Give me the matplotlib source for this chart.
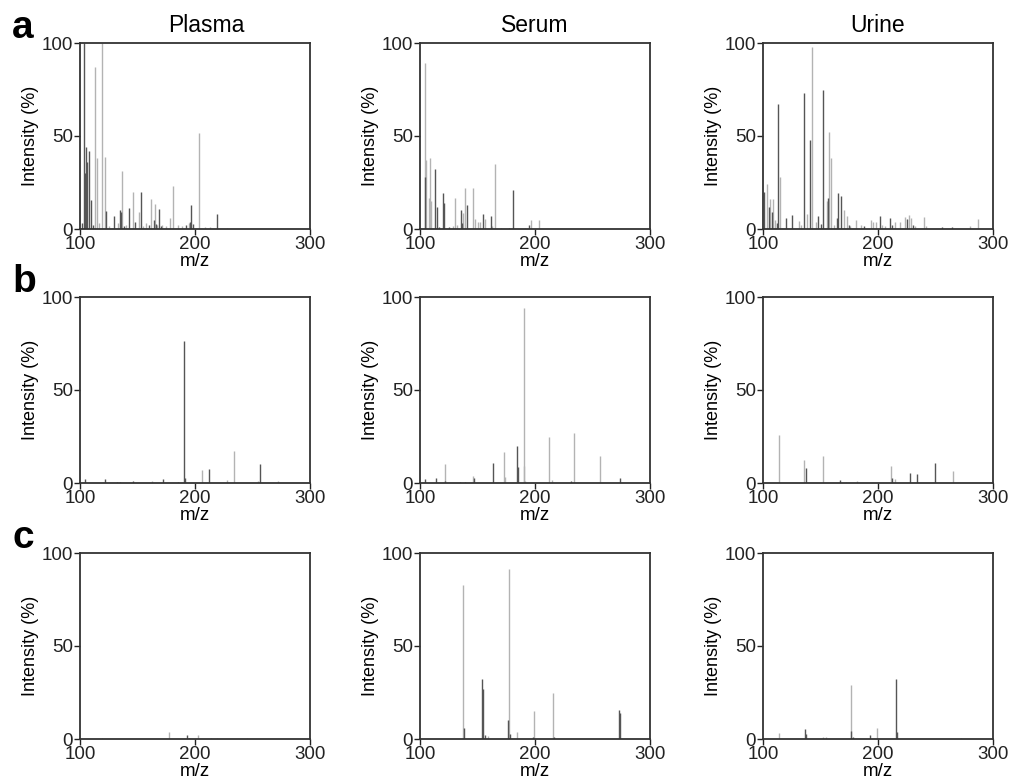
import matplotlib
matplotlib.use("Agg")
import matplotlib.pyplot as plt

plt.rcParams['font.family'] = ['Liberation Sans', 'DejaVu Sans']

samples = ["Plasma", "Serum", "Urine"]
rows = ["a", "b", "c"]
mz_ticks = [100, 200, 300]
int_ticks = [0, 50, 100]

# --- peaks (m/z, relative intensity %), split into light and dark traces ---
# row a
plasma_a_light = [(113.0, 87), (114.5, 38), (116.8, 3), (119.4, 100), (121.4, 38.7),
                  (132.8, 3), (136.8, 31.4), (146.1, 20), (151.0, 9), (157.1, 3),
                  (161.7, 16), (164.9, 13.6), (171.6, 2), (178.3, 6), (180.6, 23),
                  (185.5, 2), (194.8, 3), (203.5, 51.7), (208.7, 1), (213.0, 1),
                  (227.5, 0.5), (125.0, 1.5), (140.0, 2), (155.0, 1.5), (167.0, 2),
                  (175.0, 1.5), (189.0, 1.5)]
plasma_a_dark = [(103.8, 100), (104.3, 30), (105.5, 44), (106.4, 36), (108.1, 42),
                 (109.6, 15.6), (122.3, 9.6), (129.9, 7), (134.8, 10), (135.7, 9),
                 (142.9, 11.4), (148.1, 4), (153.0, 20), (164.0, 5), (168.7, 10.7),
                 (195.7, 4), (196.5, 13), (219.4, 8.3), (101.5, 3), (111.0, 2),
                 (138.5, 1.5), (160.0, 2), (166.0, 2.5), (170.0, 1.5), (192.0, 2),
                 (198.5, 2.5)]
serum_a_light = [(104.0, 89), (105.5, 37), (107.5, 16.5), (108.4, 38), (109.8, 15),
                 (128.6, 1.5), (130.0, 16.5), (132.4, 2), (137.3, 8.7), (138.7, 22),
                 (146.0, 21.8), (148.0, 5.4), (150.3, 3.5), (152.6, 4), (156.9, 5.4),
                 (163.0, 1.5), (165.0, 35), (170.5, 0.5), (191.3, 0.5), (196.5, 4.7),
                 (203.2, 4.7)]
serum_a_dark = [(104.6, 28), (112.7, 32), (114.7, 12), (119.9, 19.6), (120.8, 14),
                (135.3, 10), (136.7, 3), (141.0, 12.7), (154.9, 8.3), (161.8, 7),
                (177.8, 0.5), (181.2, 21), (194.5, 2), (116.5, 1), (125.0, 1)]
urine_a_light = [(103.8, 24.4), (106.3, 16), (108.4, 16), (110.1, 5), (115.0, 28),
                 (131.7, 4.5), (138.4, 8), (143.0, 98), (146.2, 4), (155.4, 15),
                 (157.1, 52), (159.2, 38), (170.7, 10), (172.7, 7), (180.8, 5),
                 (185.1, 2), (193.8, 5), (195.9, 4), (198.3, 4), (203.6, 2),
                 (214.9, 4), (218.9, 3.5), (223.5, 6.5), (227.0, 7.5), (228.4, 6),
                 (240.0, 6.5), (241.7, 1.5), (280.4, 1.5), (286.7, 5.5), (133.0, 2),
                 (162.0, 2), (176.0, 1.5), (206.0, 1.5), (232.0, 1.5)]
urine_a_dark = [(100.9, 20), (104.9, 12), (107.8, 9), (113.0, 67), (120.2, 6),
                (125.4, 7.5), (135.8, 73), (141.3, 48), (147.9, 7), (151.9, 74.5),
                (156.9, 16.6), (164.1, 6), (165.5, 19.4), (167.5, 17.7), (175.0, 2),
                (201.6, 7), (210.2, 6), (225.3, 5.6), (230.7, 2), (255.9, 1),
                (264.0, 1), (112.0, 3), (150.0, 2.5), (188.0, 1.5), (212.0, 2)]
# row b
plasma_b_light = [(162.9, 1.3), (206.2, 7.2), (228.1, 1.8), (234.2, 17), (255.0, 1),
                  (272.0, 1.3)]
plasma_b_dark = [(104.6, 2.3), (121.4, 2), (132.6, 0.5), (135.0, 0.5), (146.0, 1.3),
                 (172.4, 2.3), (185.1, 0.8), (190.3, 76.4), (191.2, 2.7), (212.0, 7.4),
                 (256.1, 10)]
serum_b_light = [(121.4, 10.3), (146.2, 3.6), (172.8, 16.6), (173.7, 3), (190.2, 94),
                 (190.8, 8.9), (191.6, 1.3), (212.4, 24.6), (215.0, 1.5), (234.1, 27),
                 (256.1, 14.6)]
serum_b_dark = [(104.0, 2), (114.2, 2.5), (121.8, 1.3), (135.0, 0.5), (139.5, 0.5),
                (146.8, 2.5), (163.3, 10.5), (184.4, 20), (185.0, 8.5), (231.2, 1.3),
                (274.3, 2.5)]
urine_b_light = [(114.1, 25.6), (135.4, 12.6), (152.2, 14.4), (172.4, 0.5),
                 (181.8, 1), (211.5, 9), (215.0, 2.3), (265.4, 6.5)]
urine_b_dark = [(137.2, 8.1), (166.6, 1.4), (212.1, 2.7), (227.7, 5.4), (233.7, 5),
                (249.6, 10.8)]
# row c
plasma_c_light = [(118.8, 0.4), (177.6, 3.8), (203.0, 2.3), (213.9, 0.5), (219.1, 0.5),
                  (245.1, 0.4)]
plasma_c_dark = [(192.9, 2.3), (195.2, 0.8)]
serum_c_light = [(137.3, 82.7), (159.3, 1.8), (177.2, 91.4), (184.7, 3.6), (199.1, 15),
                 (215.3, 25)]
serum_c_dark = [(137.9, 6), (154.3, 32.4), (155.2, 27), (156.4, 2), (176.3, 10.4),
                (178.1, 2.5), (197.9, 1), (216.2, 1), (272.8, 15.8), (273.7, 14)]
urine_c_light = [(114.1, 3), (152.2, 1.2), (155.1, 1.2), (176.7, 29.3), (199.1, 5.8),
                 (272.3, 0.4)]
urine_c_dark = [(136.3, 5.6), (137.2, 2.5), (176.1, 4.5), (178.2, 1.2), (193.4, 2.3),
                (215.3, 32), (216.1, 4)]

peaks = {
    ("a", "Plasma"): (plasma_a_light, plasma_a_dark),
    ("a", "Serum"): (serum_a_light, serum_a_dark),
    ("a", "Urine"): (urine_a_light, urine_a_dark),
    ("b", "Plasma"): (plasma_b_light, plasma_b_dark),
    ("b", "Serum"): (serum_b_light, serum_b_dark),
    ("b", "Urine"): (urine_b_light, urine_b_dark),
    ("c", "Plasma"): (plasma_c_light, plasma_c_dark),
    ("c", "Serum"): (serum_c_light, serum_c_dark),
    ("c", "Urine"): (urine_c_light, urine_c_dark),
}

W, H = 1009, 780
fig = plt.figure(figsize=(W / 100, H / 100), dpi=100)

col_left = [80, 420, 763]
row_top = [43, 297, 553]
ax_w, ax_h = 230, 186
title_x = [206, 535, 878]

for r, row in enumerate(rows):
    for c, name in enumerate(samples):
        left = col_left[c] / W
        bottom = 1 - (row_top[r] + ax_h) / H
        ax = fig.add_axes([left, bottom, ax_w / W, ax_h / H])
        light, dark = peaks[(row, name)]
        for series, col in ((light, "#b3b3b3"), (dark, "#555555")):
            mz = [p[0] for p in series]
            inten = [p[1] for p in series]
            ax.vlines(mz, 0, inten, colors=col, lw=1.0)
        ax.set_xlim(100, 300)
        ax.set_ylim(0, 100)
        ax.set_xticks(mz_ticks)
        ax.set_yticks(int_ticks)
        ax.tick_params(direction="out", length=4, width=1.0, labelsize=13.5,
                       pad=1, colors="#222222")
        for s in ax.spines.values():
            s.set_linewidth(1.3)
            s.set_color("#333333")
        ax.set_xlabel("m/z", fontsize=13.5, labelpad=0)
        ax.set_ylabel("Intensity (%)", fontsize=13, labelpad=2)

        if r == 0:
            fig.text(title_x[c] / W, 1 - 25 / H, name, ha="center", va="center",
                     fontsize=16.5)
    fig.text(12 / W, 1 - (row_top[r] - 5) / H, row, ha="left", va="baseline",
             fontsize=28, fontweight="bold")

fig.savefig("out.png", dpi=100)
